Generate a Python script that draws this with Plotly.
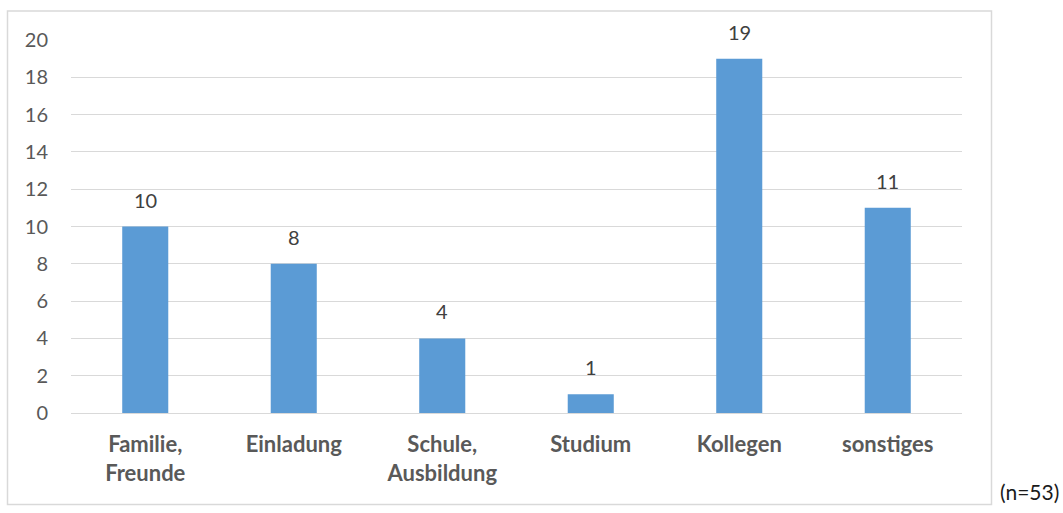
import plotly.graph_objects as go

categories = ["Familie,<br>Freunde", "Einladung", "Schule,<br>Ausbildung", "Studium", "Kollegen", "sonstiges"]
counts = [10, 8, 4, 1, 19, 11]
y_ticks = [0, 2, 4, 6, 8, 10, 12, 14, 16, 18, 20]
sample_note = "(n=53)"

W, H = 1063, 513
# plot area in pixels
L, R, T, B = 71, 962, 40, 413.5
pw, ph = R - L, B - T

def px_x(x):
    return (x - L) / pw

def px_y(y):
    return (B - y) / ph

font_family = "Lato, 'Open Sans', sans-serif"

fig = go.Figure(
    go.Bar(
        x=categories,
        y=counts,
        marker=dict(color="#5B9BD5", line=dict(width=0)),
        width=0.31,
        hoverinfo="x+y",
    )
)

# value labels above the bars
for c, v in zip(categories, counts):
    fig.add_annotation(
        x=c, y=v, text=str(v), showarrow=False,
        yanchor="bottom", yshift=13,
        font=dict(family=font_family, size=20, color="#404040"),
    )

# chart frame
fig.add_shape(
    type="rect", xref="paper", yref="paper",
    x0=px_x(7.5), x1=px_x(991.5), y0=px_y(505), y1=px_y(11),
    line=dict(color="#D9D9D9", width=1.5), fillcolor="rgba(0,0,0,0)", layer="below",
)

fig.add_annotation(
    xref="paper", yref="paper", x=px_x(1029), y=px_y(492),
    text=sample_note, showarrow=False, xanchor="center", yanchor="middle",
    font=dict(family=font_family, size=21, color="#1a1a1a"),
)

fig.update_layout(
    width=W, height=H,
    margin=dict(l=L, r=W - R, t=T, b=H - B, pad=0),
    paper_bgcolor="white", plot_bgcolor="white",
    showlegend=False,
    font=dict(family=font_family, color="#595959"),
    xaxis=dict(
        showgrid=False, showline=False, zeroline=False,
        ticks="", ticklabelstandoff=16,
        tickfont=dict(family=font_family, size=22, color="#595959", weight="bold"),
    ),
    yaxis=dict(
        range=[0, 20], tickvals=y_ticks,
        showgrid=True, gridcolor="#D9D9D9", gridwidth=1,
        zeroline=True, zerolinecolor="#D9D9D9", zerolinewidth=1,
        showline=False, ticks="", ticklabelstandoff=22,
        tickfont=dict(family=font_family, size=20, color="#595959"),
    ),
)

fig.write_html("out.html")
